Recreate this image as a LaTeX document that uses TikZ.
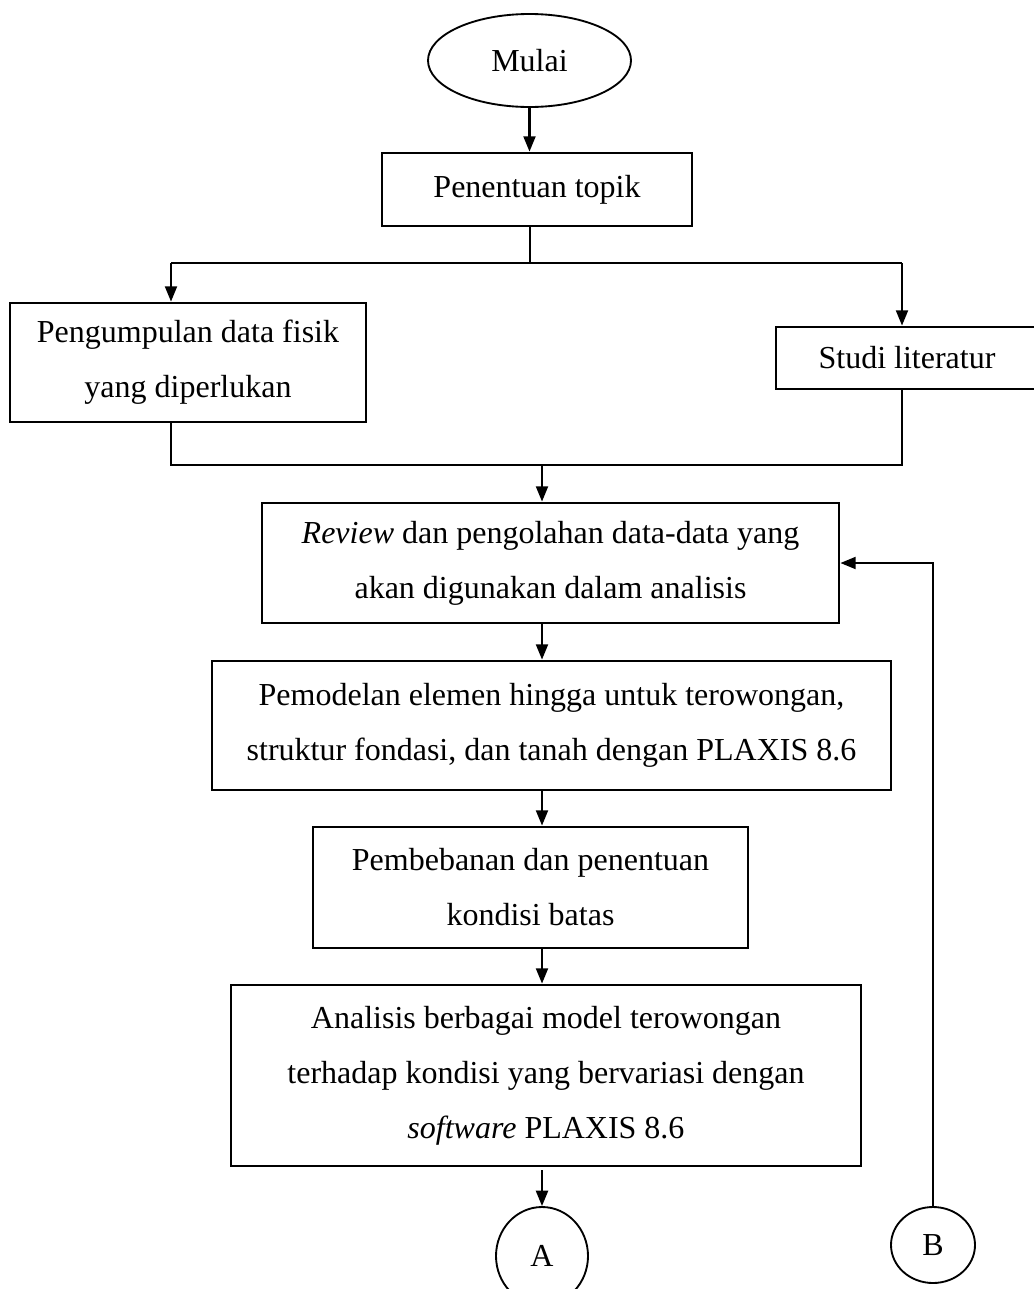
\documentclass[tikz,border=0pt]{standalone}
\usepackage{fontspec}
\setmainfont{Liberation Serif}
\usetikzlibrary{arrows.meta,shapes.geometric}
\newcommand\pxu{0.75pt}
\begin{document}
\begin{tikzpicture}[x=0.75pt,y=-0.75pt,
  box/.style={draw, line width=2.1pt, rectangle, inner sep=0pt, align=center, font=\fontsize{24}{41.25}\selectfont},
  term/.style={draw, line width=1.4pt, ellipse, inner sep=0pt, font=\fontsize{24}{41.25}\selectfont},
  arr/.style={line width=1.6pt, -{Triangle[length=11.5pt,width=9pt]}},
  ln/.style={line width=1.1pt}]
\useasboundingbox (0,0) rectangle (1033,1289);
\node[term, minimum width=203*\pxu, minimum height=93*\pxu] (mulai) at (529.5,60.5) {Mulai};
\node[box, minimum width=310*\pxu, minimum height=73*\pxu] (topik) at (537,189.5) {Penentuan topik};
\node[box, minimum width=356*\pxu, minimum height=119*\pxu] (data) at (188,362.5) {Pengumpulan data fisik\\yang diperlukan};
\node[box, minimum width=262*\pxu, minimum height=62*\pxu] (studi) at (907,358) {Studi literatur};
\node[box, minimum width=577*\pxu, minimum height=120*\pxu] (review) at (550.5,563) {\textit{Review} dan pengolahan data-data yang\\akan digunakan dalam analisis};
\node[box, minimum width=679*\pxu, minimum height=129*\pxu] (model) at (551.5,725.5) {Pemodelan elemen hingga untuk terowongan,\\struktur fondasi, dan tanah dengan PLAXIS 8.6};
\node[box, minimum width=435*\pxu, minimum height=121*\pxu] (beban) at (530.5,887.5) {Pembebanan dan penentuan\\kondisi batas};
\node[box, minimum width=630*\pxu, minimum height=181*\pxu] (analisis) at (546,1075.5) {Analisis berbagai model terowongan\\terhadap kondisi yang bervariasi dengan\\\textit{software} PLAXIS 8.6};
\node[term, minimum width=92*\pxu, minimum height=98*\pxu] (A) at (542,1256) {A};
\node[term, minimum width=84*\pxu, minimum height=76*\pxu] (B) at (933,1245) {B};
\coordinate (jt) at (530,263);
\coordinate (jl) at (171,263);
\coordinate (jr) at (902,263);
\coordinate (ml) at (171,465);
\coordinate (mr) at (902,465);
\coordinate (mm) at (542,465);
\coordinate (bk) at (933,563);
\draw[arr] (mulai.south) -- (mulai.south |- topik.north);
\draw[ln] (jt |- topik.south) -- (jt);
\draw[ln] (jl) -- (jr);
\draw[arr] (jl) -- (jl |- data.north);
\draw[arr] (jr) -- (jr |- studi.north);
\draw[ln] (ml |- data.south) -- (ml) -- (mr) -- (mr |- studi.south);
\draw[arr] (mm) -- (mm |- review.north);
\draw[arr] (mm |- review.south) -- (mm |- model.north);
\draw[arr] (mm |- model.south) -- (mm |- beban.north);
\draw[arr] (mm |- beban.south) -- (mm |- analisis.north);
\draw[arr] ([yshift=-3*\pxu]mm |- analisis.south) -- (A.north);
\draw[arr] (B.north) -- (bk) -- (review.east |- bk);
\end{tikzpicture}
\end{document}
